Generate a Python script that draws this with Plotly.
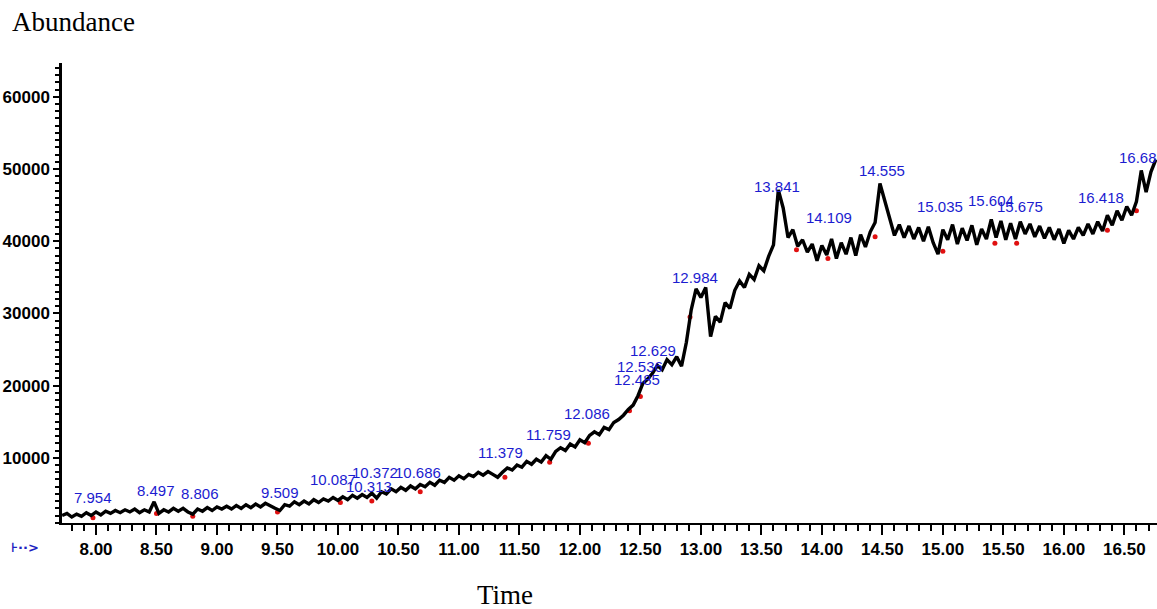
import plotly.graph_objects as go

# ---- data ----
time_min = [
    7.72, 7.76, 7.80, 7.84, 7.88, 7.92, 7.96, 8.00, 8.04, 8.08,
    8.12, 8.16, 8.20, 8.24, 8.28, 8.32, 8.36, 8.40, 8.44, 8.48,
    8.52, 8.56, 8.60, 8.64, 8.68, 8.72, 8.76, 8.80, 8.84, 8.88,
    8.92, 8.96, 9.00, 9.04, 9.08, 9.12, 9.16, 9.20, 9.24, 9.28,
    9.32, 9.36, 9.40, 9.44, 9.48, 9.52, 9.56, 9.60, 9.64, 9.68,
    9.72, 9.76, 9.80, 9.84, 9.88, 9.92, 9.96, 10.00, 10.04, 10.08,
    10.12, 10.16, 10.20, 10.24, 10.28, 10.32, 10.36, 10.40, 10.44, 10.48,
    10.52, 10.56, 10.60, 10.64, 10.68, 10.72, 10.76, 10.80, 10.84, 10.88,
    10.92, 10.96, 11.00, 11.04, 11.08, 11.12, 11.16, 11.20, 11.24, 11.28,
    11.32, 11.36, 11.40, 11.44, 11.48, 11.52, 11.56, 11.60, 11.64, 11.68,
    11.72, 11.76, 11.80, 11.84, 11.88, 11.92, 11.96, 12.00, 12.04, 12.08,
    12.12, 12.16, 12.20, 12.24, 12.28, 12.32, 12.36, 12.40, 12.44, 12.48,
    12.52, 12.56, 12.60, 12.64, 12.68, 12.72, 12.76, 12.80, 12.84, 12.88,
    12.92, 12.96, 13.00, 13.04, 13.08, 13.12, 13.16, 13.20, 13.24, 13.28,
    13.32, 13.36, 13.40, 13.44, 13.48, 13.52, 13.56, 13.60, 13.64, 13.68,
    13.72, 13.76, 13.80, 13.84, 13.88, 13.92, 13.96, 14.00, 14.04, 14.08,
    14.12, 14.16, 14.20, 14.24, 14.28, 14.32, 14.36, 14.40, 14.44, 14.48,
    14.52, 14.56, 14.60, 14.64, 14.68, 14.72, 14.76, 14.80, 14.84, 14.88,
    14.92, 14.96, 15.00, 15.04, 15.08, 15.12, 15.16, 15.20, 15.24, 15.28,
    15.32, 15.36, 15.40, 15.44, 15.48, 15.52, 15.56, 15.60, 15.64, 15.68,
    15.72, 15.76, 15.80, 15.84, 15.88, 15.92, 15.96, 16.00, 16.04, 16.08,
    16.12, 16.16, 16.20, 16.24, 16.28, 16.32, 16.36, 16.40, 16.44, 16.48,
    16.52, 16.56, 16.60, 16.64, 16.68, 16.72, 16.76,
]
abundance = [
    2000, 2300, 1800, 2200, 1900, 2400, 2000, 2500, 2100, 2600,
    2300, 2700, 2400, 2800, 2500, 2900, 2400, 2800, 2500, 3900,
    2300, 2800, 2500, 3000, 2600, 3000, 2500, 2200, 2900, 2600,
    3100, 2700, 3200, 2900, 3300, 2900, 3400, 3000, 3500, 3100,
    3600, 3200, 3700, 3300, 3000, 2700, 3500, 3300, 3900, 3500,
    4000, 3600, 4200, 3800, 4300, 4000, 4500, 4100, 4600, 4200,
    4800, 4400, 4900, 4500, 5100, 4400, 5300, 5000, 5700, 5300,
    5900, 5500, 6100, 5700, 6300, 6000, 6600, 6200, 6900, 6600,
    7300, 6900, 7500, 7100, 7700, 7400, 8000, 7600, 8100, 7700,
    7300, 8000, 8600, 8300, 9000, 8700, 9500, 9100, 9800, 9400,
    10300, 9800, 10900, 11400, 11000, 11900, 11500, 12500, 12100, 13100,
    13600, 13200, 14200, 13900, 14900, 15300, 15900, 16700, 17300, 18600,
    20300, 20900, 21700, 22800, 22200, 23600, 22900, 24000, 22700, 26000,
    30500, 33400, 32200, 33600, 26800, 29600, 28800, 31500, 30700, 33200,
    34500, 33600, 35400, 34700, 36600, 35900, 37900, 39500, 47100, 44600,
    40500, 41600, 39300, 40200, 38500, 39600, 37300, 39400, 38100, 40300,
    37600, 39800, 38200, 40500, 38000, 40900, 39200, 41300, 42600, 48000,
    45500, 43200, 40800, 42300, 40500, 42100, 40300, 41900, 40000, 42000,
    39800, 38200, 41600, 40200, 42300, 39600, 41800, 40100, 42200, 39500,
    41700, 40300, 43000, 40500, 42800, 40200, 42500, 40300, 42700, 41000,
    42400, 40600, 42100, 40400, 41900, 40200, 41700, 39700, 41500, 40300,
    41900, 40800, 42400, 41000, 42700, 41400, 43600, 42200, 44200, 42900,
    44800, 43600, 45500, 49800, 46800, 49600, 51300,
]

# integration marks (red)
red_t = [7.975, 8.50, 8.80, 9.50, 10.02, 10.28, 10.68, 11.38, 11.75, 12.07,
         12.41, 12.50, 12.91, 13.79, 14.05, 14.44, 15.00, 15.43, 15.61, 16.36, 16.60]
red_a = [1700, 2300, 1900, 2500, 3800, 4000, 5300, 7300, 9400, 12000,
         16500, 18500, 29500, 38800, 37600, 40600, 38600, 39700, 39700, 41500, 44200]

# peak labels: text, time position, abundance position
peak_text = ["7.954", "8.497", "8.806", "9.509", "10.087", "10.313", "10.372", "10.686",
             "11.379", "11.759", "12.086", "12.485", "12.536", "12.629", "12.984",
             "13.841", "14.109", "14.555", "15.035", "15.604", "15.675", "16.418", "16.685"]
peak_t = [7.975, 8.50, 8.86, 9.52, 9.96, 10.26, 10.31, 10.66,
          11.34, 11.74, 12.06, 12.47, 12.50, 12.60, 12.95,
          13.63, 14.06, 14.50, 14.98, 15.40, 15.64, 16.31, 16.65]
peak_a = [4570, 5540, 5120, 5260, 6930, 5960, 8030, 8030,
          10800, 13160, 16200, 20780, 22710, 24930, 35040,
          47640, 43350, 49860, 44740, 45700, 44740, 46120, 51660]

y_ticks = [10000, 20000, 30000, 40000, 50000, 60000]

W, H = 1157, 609
L, R, T, B = 62, 0, 63, 86

fig = go.Figure()
fig.add_trace(go.Scatter(x=red_t, y=red_a, mode="markers",
                         marker=dict(color="#e01010", size=5, symbol="circle"),
                         hoverinfo="skip", showlegend=False))
fig.add_trace(go.Scatter(x=time_min, y=abundance, mode="lines",
                         line=dict(color="black", width=3.4),
                         showlegend=False))

for txt, t, a in zip(peak_text, peak_t, peak_a):
    fig.add_annotation(x=t, y=a, xref="x", yref="y", text=txt, showarrow=False,
                       font=dict(family="Liberation Sans, Arial, sans-serif", size=15, color="#1c1cd0"),
                       xanchor="center", yanchor="middle")

def px2paper_x(px):
    return (px - L) / (W - L - R)

def py2paper_y(py):
    return (H - B - py) / (H - T - B)

fig.add_annotation(x=px2paper_x(10), y=py2paper_y(22), xref="paper", yref="paper",
                   text="Abundance", showarrow=False, xanchor="left", yanchor="middle",
                   font=dict(family="Liberation Serif, Times New Roman, serif", size=27, color="black"))
fig.add_annotation(x=px2paper_x(505), y=py2paper_y(595), xref="paper", yref="paper",
                   text="Time", showarrow=False, xanchor="center", yanchor="middle",
                   font=dict(family="Liberation Serif, Times New Roman, serif", size=27, color="black"))
fig.add_annotation(x=px2paper_x(9), y=py2paper_y(547), xref="paper", yref="paper",
                   text="<b>⊦··></b>", showarrow=False, xanchor="left", yanchor="middle",
                   font=dict(family="DejaVu Sans, sans-serif", size=13, color="#2020c0"))

tickfont = dict(family="Liberation Sans Narrow, Arial Narrow, Liberation Sans, sans-serif",
                size=17, color="black", weight="bold")

fig.update_layout(
    width=W, height=H,
    margin=dict(l=L, r=R, t=T, b=B, autoexpand=False),
    paper_bgcolor="white", plot_bgcolor="white",
    xaxis=dict(range=[7.719, 16.77], showline=True, linecolor="black", linewidth=2,
               ticks="outside", ticklen=10, tickwidth=2, tickcolor="black",
               tick0=8, dtick=0.5, tickformat=".2f", tickfont=tickfont,
               showgrid=False, zeroline=False, automargin=False,
               minor=dict(dtick=0.1, tick0=8, ticks="outside", ticklen=6, tickwidth=1.5,
                          tickcolor="black", showgrid=False)),
    yaxis=dict(range=[970, 64680], showline=True, linecolor="black", linewidth=2.5,
               ticks="outside", ticklen=6, tickwidth=2, tickcolor="black",
               tickvals=y_ticks, ticktext=[str(v) for v in y_ticks], tickfont=tickfont,
               showgrid=False, zeroline=False, automargin=False,
               minor=dict(dtick=1000, ticks="outside", ticklen=4, tickwidth=1.5,
                          tickcolor="black", showgrid=False)),
)

fig.write_html("out.html", config={"displayModeBar": False},
               post_script="document.body.style.margin='0';document.body.style.overflow='hidden';")
